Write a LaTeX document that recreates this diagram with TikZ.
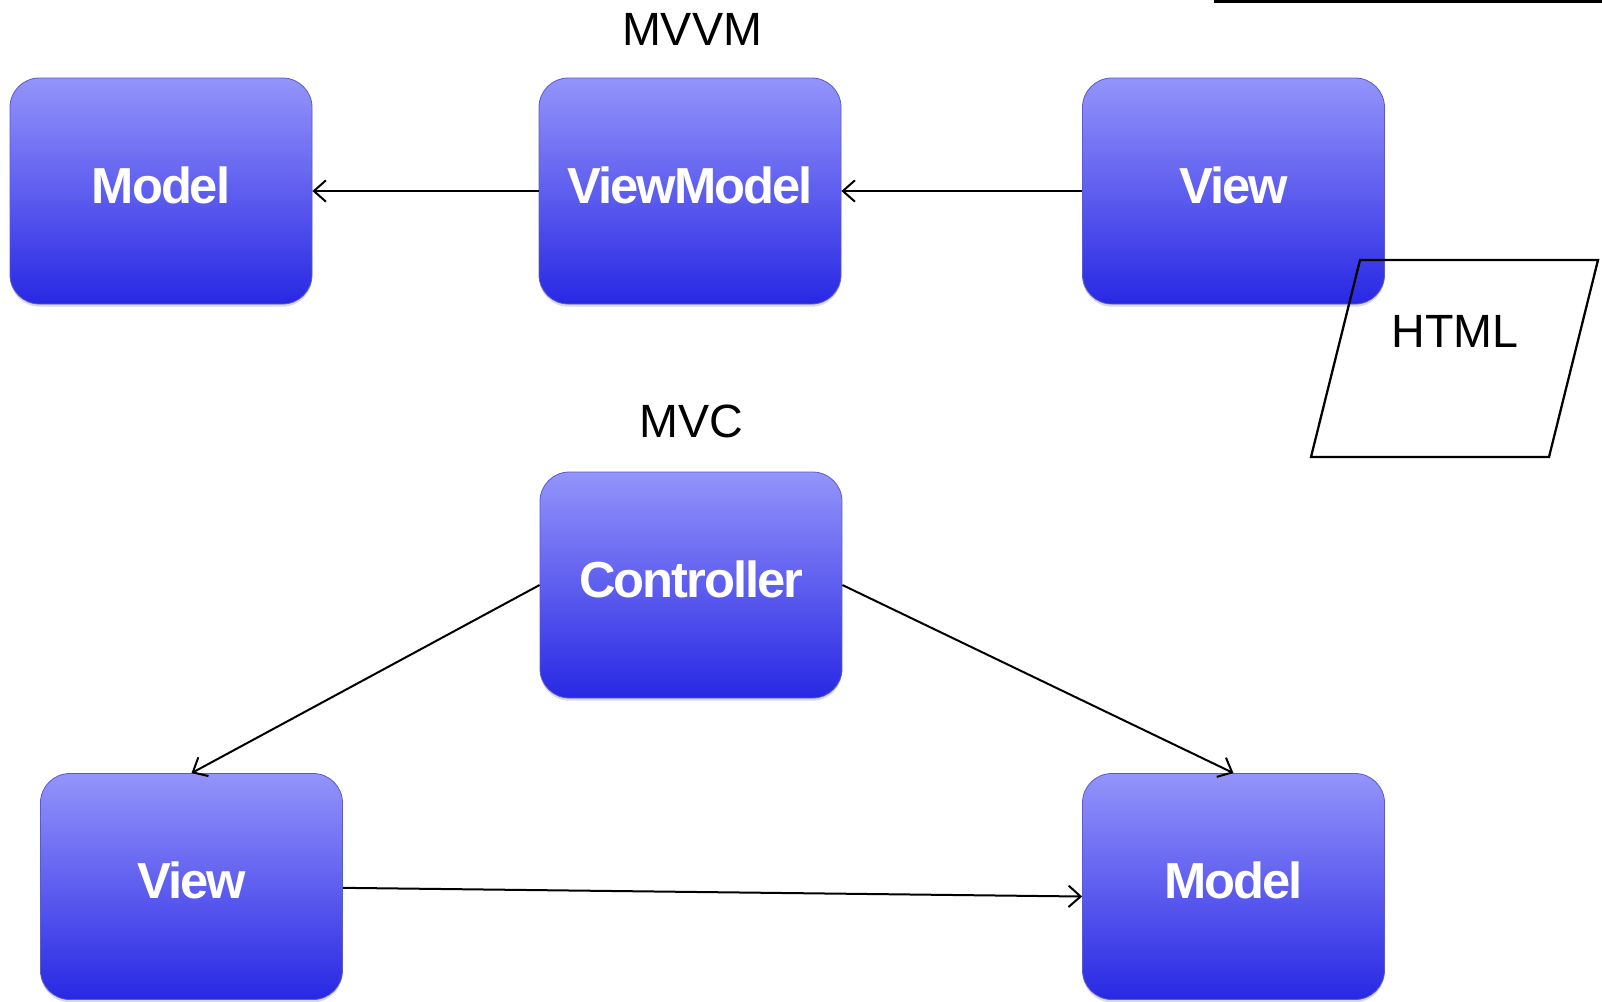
\documentclass[tikz,border=0pt]{standalone}
\usepackage{fontspec}
\setmainfont{Liberation Sans}
\usetikzlibrary{arrows.meta,shadows}
\definecolor{boxtop}{HTML}{9494FB}
\definecolor{boxmid}{HTML}{7070F7}
\definecolor{boxbot}{HTML}{2828E4}
\definecolor{boxedge}{HTML}{5A5AC8}
\definecolor{lav}{HTML}{C8C8E6}
\begin{document}
\begin{tikzpicture}[x=0.75pt,y=-0.75pt,
  blockbox/.style={rounded corners=22pt, minimum width=226.5pt, minimum height=169.5pt,
    top color=boxtop, middle color=boxmid, bottom color=boxbot, draw=boxedge, line width=0.6pt,
    drop shadow={opacity=0.3, shadow xshift=0pt, shadow yshift=-2pt},
    text=white, font=\fontsize{38}{40}\selectfont\bfseries\addfontfeatures{LetterSpace=-4},
    inner sep=0pt, text depth=9pt},
  title/.style={font=\fontsize{35}{40}\selectfont, text=black, inner sep=0pt},
  arr/.style={-{Straight Barb[length=9pt,width=16pt,line width=1.5pt]}, line width=1.5pt, black}]
\useasboundingbox (0,0) rectangle (1602,1001);
% partial box at top right
\begin{scope}
\clip (0,0) rectangle (1602,1001);
\draw[fill=lav, line width=2.6pt] (1216,-40) rectangle (1640,1.5);
\end{scope}
% titles
\node[title, anchor=base] (tmvvm) at (692,45) {MVVM};
\node[title, anchor=base] (tmvc) at (691,437) {MVC};
% MVVM boxes
\node[blockbox] (M1) at (161,191) {Model};
\node[blockbox] (VM) at (690,191) {ViewModel};
\node[blockbox] (V1) at (1233.5,191) {View};
% HTML parallelogram
\draw[line width=1.7pt] (1360,260) coordinate (h1) -- (1598,260) coordinate (h2) -- (1549,457) coordinate (h3) -- (1311,457) coordinate (h4) -- cycle;
\node[title, anchor=base] (html) at (1455,347) {HTML};
% MVC boxes
\node[blockbox] (C) at (691,585) {Controller};
\node[blockbox] (V2) at (191.5,886.5) {View};
\node[blockbox] (M2) at (1233.5,886.5) {Model};
% arrows
\draw[arr] (VM.west) -- (M1.east);
\draw[arr] (V1.west) -- (VM.east);
\draw[arr] (C.west) -- (V2.north);
\draw[arr] (C.east) -- (M2.north);
\draw[arr] ([yshift=-1pt]V2.east) -- ([yshift=-7.5pt]M2.west);
\end{tikzpicture}
\end{document}
